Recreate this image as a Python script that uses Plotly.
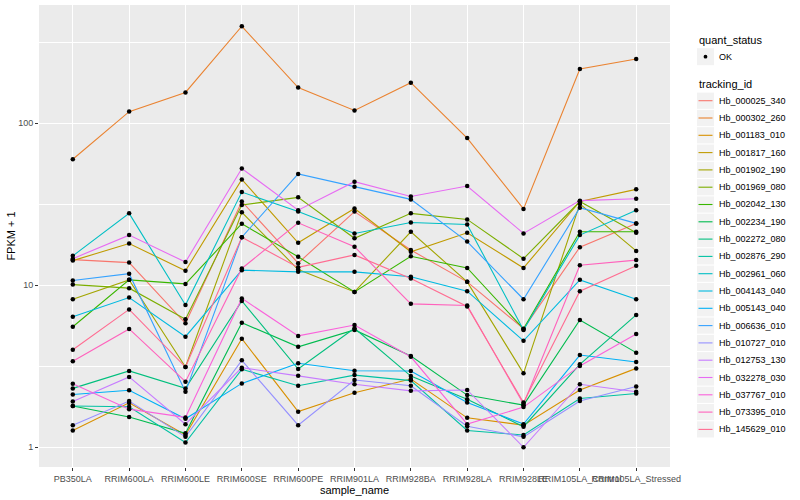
import plotly.graph_objects as go

samples = ["PB350LA", "RRIM600LA", "RRIM600LE", "RRIM600SE", "RRIM600PE", "RRIM901LA",
           "RRIM928BA", "RRIM928LA", "RRIM928LE", "RRIM105LA_Control", "RRIM105LA_Stressed"]

hb_000025_340 = [14.4, 13.8, 5.83, 32.9, 13.7, 28.5, 16.5, 10.5, 5.4, 17.2, 24.1]
hb_000302_260 = [60, 118, 155, 397, 166, 120, 178, 81, 29.6, 216, 249]
hb_001183_010 = [1.27, 1.88, 1.19, 4.68, 1.66, 2.17, 2.64, 1.52, 1.37, 2.26, 3.07]
hb_001817_160 = [14.2, 18.1, 12.3, 45.0, 18.3, 29.8, 16.1, 21.1, 12.8, 32.9, 39.1]
hb_001902_190 = [8.2, 10.8, 3.13, 28.2, 12.5, 9.1, 21.4, 10.5, 2.86, 31.8, 16.3]
hb_001969_080 = [10.1, 9.6, 6.17, 31.3, 34.9, 19.5, 27.8, 25.5, 14.6, 32.9, 21.1]
hb_002042_130 = [5.55, 10.8, 10.2, 24.0, 15.0, 9.1, 15.1, 12.8, 5.38, 21.4, 21.4]
hb_002234_190 = [1.80, 1.54, 1.22, 5.87, 4.17, 5.3, 3.66, 2.10, 1.82, 6.1, 3.84]
hb_002272_080 = [2.31, 2.96, 2.31, 8.0, 3.04, 5.43, 2.75, 1.98, 1.34, 3.25, 6.56]
hb_002876_290 = [1.80, 1.78, 1.07, 3.03, 2.40, 2.79, 2.58, 1.27, 1.19, 2.0, 2.15]
hb_002961_060 = [15.2, 27.8, 7.55, 37.6, 28.5, 20.9, 24.4, 23.7, 5.3, 20.4, 29.1]
hb_004143_040 = [6.4, 8.4, 4.82, 12.4, 12.1, 12.1, 11.3, 9.2, 4.54, 10.8, 8.2]
hb_005143_040 = [2.12, 2.25, 1.50, 2.48, 3.30, 2.97, 2.96, 1.89, 1.39, 3.71, 3.36]
hb_006636_010 = [10.7, 11.8, 2.2, 19.8, 48.7, 40.6, 33.9, 18.6, 8.2, 30.1, 24.1]
hb_010727_010 = [1.37, 1.93, 1.16, 3.44, 1.37, 2.60, 2.40, 1.35, 1.16, 1.93, 2.37]
hb_012753_130 = [1.92, 2.72, 1.39, 3.1, 2.76, 2.45, 2.23, 2.26, 1.0, 2.45, 2.2]
hb_032278_030 = [14.6, 20.4, 13.9, 52.6, 29.1, 43.6, 35.3, 41.0, 20.9, 33.3, 34.2]
hb_037767_010 = [2.47, 1.72, 1.53, 8.3, 4.87, 5.68, 3.62, 1.39, 1.77, 3.18, 5.0]
hb_073395_010 = [3.4, 5.38, 2.54, 12.7, 24.3, 17.3, 7.68, 7.5, 1.85, 13.3, 14.3]
hb_145629_010 = [4.0, 7.1, 3.13, 19.8, 12.9, 15.4, 11.0, 7.4, 1.89, 9.2, 13.2]

tracking_ids = ["Hb_000025_340", "Hb_000302_260", "Hb_001183_010", "Hb_001817_160", "Hb_001902_190",
                "Hb_001969_080", "Hb_002042_130", "Hb_002234_190", "Hb_002272_080", "Hb_002876_290",
                "Hb_002961_060", "Hb_004143_040", "Hb_005143_040", "Hb_006636_010", "Hb_010727_010",
                "Hb_012753_130", "Hb_032278_030", "Hb_037767_010", "Hb_073395_010", "Hb_145629_010"]
series_values = [hb_000025_340, hb_000302_260, hb_001183_010, hb_001817_160, hb_001902_190,
                 hb_001969_080, hb_002042_130, hb_002234_190, hb_002272_080, hb_002876_290,
                 hb_002961_060, hb_004143_040, hb_005143_040, hb_006636_010, hb_010727_010,
                 hb_012753_130, hb_032278_030, hb_037767_010, hb_073395_010, hb_145629_010]
colors = ["#F8766D", "#EA8331", "#D89000", "#C09B00", "#A3A500", "#7CAE00", "#39B600", "#00BB4E",
          "#00BF7D", "#00C1A3", "#00BFC4", "#00BAE0", "#00B0F6", "#35A2FF", "#9590FF", "#C77CFF",
          "#E76BF3", "#FA62DB", "#FF62BC", "#FF6C91"]

FONT = "Liberation Sans, Arial, sans-serif"

fig = go.Figure()
for name, vals, col in zip(tracking_ids, series_values, colors):
    fig.add_trace(go.Scatter(x=samples, y=vals, mode="lines", name=name,
                             line=dict(color=col, width=1.1), showlegend=False, hoverinfo="skip"))
for name, vals in zip(tracking_ids, series_values):
    fig.add_trace(go.Scatter(x=samples, y=vals, mode="markers", name=name,
                             marker=dict(color="black", size=4.5), showlegend=False))

# plot area in pixels
L, R, T, B = 39, 670, 5, 467
W, H = 800, 500


def px_x(px):
    return (px - L) / (R - L)


def px_y(py):
    return (B - py) / (B - T)


shapes = []
annotations = []
# legend: quant_status
annotations.append(dict(x=px_x(697), y=px_y(40), xref="paper", yref="paper", text="quant_status",
                        showarrow=False, xanchor="left", yanchor="middle",
                        font=dict(family=FONT, size=11, color="black")))
shapes.append(dict(type="rect", xref="paper", yref="paper", x0=px_x(697), x1=px_x(714),
                   y0=px_y(48.2), y1=px_y(65.2), fillcolor="#F2F2F2", line=dict(width=0)))
shapes.append(dict(type="circle", xref="paper", yref="paper", x0=px_x(703.6), x1=px_x(707.4),
                   y0=px_y(54.8), y1=px_y(58.6), fillcolor="black", line=dict(width=0)))
annotations.append(dict(x=px_x(717), y=px_y(56.7), xref="paper", yref="paper", text="OK",
                        showarrow=False, xanchor="left", yanchor="middle",
                        font=dict(family=FONT, size=9, color="black")))
# legend: tracking_id
annotations.append(dict(x=px_x(697), y=px_y(84), xref="paper", yref="paper", text="tracking_id",
                        showarrow=False, xanchor="left", yanchor="middle",
                        font=dict(family=FONT, size=11, color="black")))
step = 17.3
for i, (name, col) in enumerate(zip(tracking_ids, colors)):
    cy = 100.7 + step * i
    shapes.append(dict(type="rect", xref="paper", yref="paper", x0=px_x(697), x1=px_x(714),
                       y0=px_y(cy - 8.1), y1=px_y(cy + 8.1), fillcolor="#F2F2F2", line=dict(width=0)))
    shapes.append(dict(type="line", xref="paper", yref="paper", x0=px_x(698.5), x1=px_x(712.5),
                       y0=px_y(cy), y1=px_y(cy), line=dict(color=col, width=1.1)))
    annotations.append(dict(x=px_x(717), y=px_y(cy), xref="paper", yref="paper", text=name,
                            showarrow=False, xanchor="left", yanchor="middle",
                            font=dict(family=FONT, size=9, color="black")))

fig.update_layout(
    width=W, height=H,
    margin=dict(l=L, r=W - R, t=T, b=H - B, autoexpand=False),
    paper_bgcolor="white", plot_bgcolor="#EBEBEB",
    font=dict(family=FONT, size=9, color="#4D4D4D"),
    shapes=shapes, annotations=annotations,
    showlegend=False,
    xaxis=dict(type="category", categoryorder="array", categoryarray=samples,
               range=[-0.6, 10.6], showgrid=True, gridcolor="white", gridwidth=1.1,
               ticks="outside", ticklen=3, tickcolor="#333333", tickwidth=1, tickangle=0,
               tickfont=dict(family=FONT, size=9, color="#4D4D4D"), zeroline=False,
               showline=False, automargin=False,
               title=dict(text="sample_name", font=dict(family=FONT, size=11, color="black"), standoff=0)),
    yaxis=dict(type="log", range=[-0.1216, 2.730], tickvals=[1, 10, 100], ticktext=["1", "10", "100"],
               showgrid=True, gridcolor="white", gridwidth=1.1,
               minor=dict(tickvals=[3.1623, 31.623, 316.23], showgrid=True, gridcolor="white",
                          gridwidth=0.5, ticks=""),
               ticks="outside", ticklen=3, tickcolor="#333333", tickwidth=1,
               tickfont=dict(family=FONT, size=9, color="#4D4D4D"), zeroline=False,
               showline=False, automargin=False,
               title=dict(text="FPKM + 1", font=dict(family=FONT, size=11, color="black"), standoff=0)),
)

fig.write_html("out.html", config={"displayModeBar": False},
               post_script="document.body.style.margin='0px';")
